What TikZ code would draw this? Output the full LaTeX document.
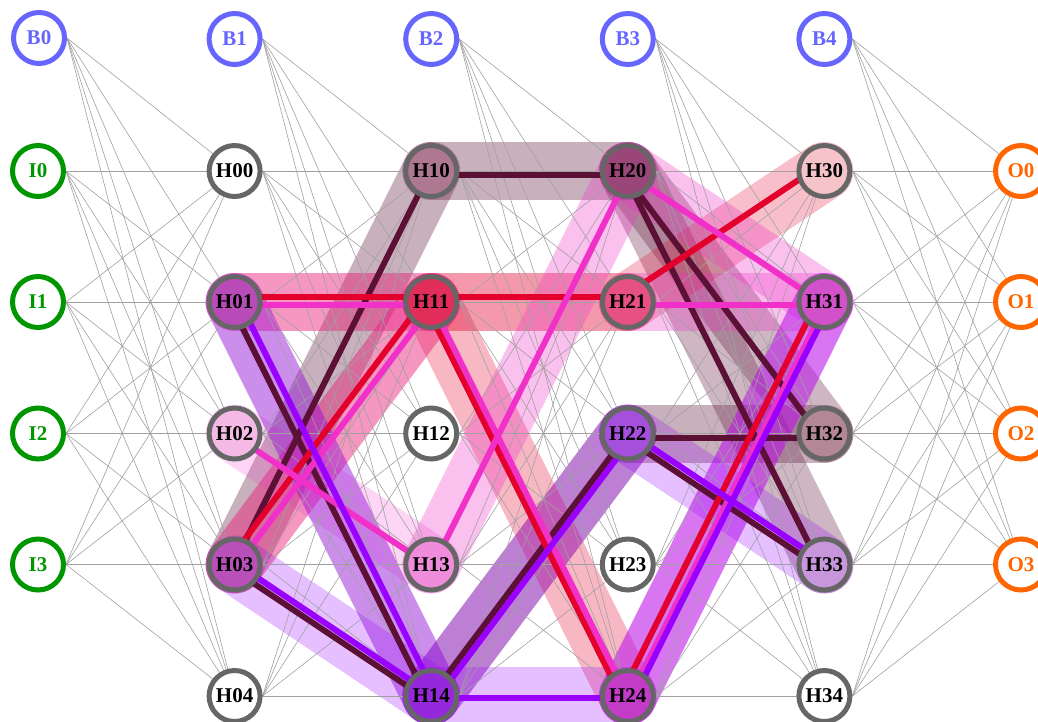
\documentclass[tikz,border=0pt]{standalone}
\usepackage{fontspec}
\setmainfont{Liberation Serif}
\pgfdeclarelayer{bg}
\pgfsetlayers{bg,main}

\definecolor{biasc}{RGB}{102,102,255}
\definecolor{inc}{RGB}{0,150,0}
\definecolor{outc}{RGB}{255,102,0}
\definecolor{hidc}{RGB}{102,102,102}
\definecolor{wirec}{RGB}{160,160,160}
\definecolor{maroonc}{RGB}{92,16,54}
\definecolor{redc}{RGB}{228,0,44}
\definecolor{magc}{RGB}{240,48,200}
\definecolor{purc}{RGB}{153,0,255}

\definecolor{f01}{RGB}{185,75,185}
\definecolor{f02}{RGB}{245,185,230}
\definecolor{f03}{RGB}{185,80,185}
\definecolor{f10}{RGB}{175,120,145}
\definecolor{f11}{RGB}{225,45,90}
\definecolor{f13}{RGB}{240,140,220}
\definecolor{f14}{RGB}{150,40,220}
\definecolor{f20}{RGB}{155,70,120}
\definecolor{f21}{RGB}{230,80,130}
\definecolor{f22}{RGB}{165,80,220}
\definecolor{f24}{RGB}{195,60,200}
\definecolor{f30}{RGB}{245,195,200}
\definecolor{f31}{RGB}{210,80,200}
\definecolor{f32}{RGB}{180,135,150}
\definecolor{f33}{RGB}{200,150,220}

\tikzset{
  neuron/.style={circle, minimum size=51pt, inner sep=0pt, line width=5pt,
    font=\fontsize{21}{24}\selectfont\bfseries},
  biasn/.style={neuron, draw=biasc, text=biasc, fill=white},
  inn/.style={neuron, draw=inc, text=inc, fill=white},
  outn/.style={neuron, draw=outc, text=outc, fill=white},
  hidn/.style={neuron, draw=hidc, text=black, fill=white},
  wire/.style={draw=wirec, line width=0.6pt},
  band/.style={line width=58pt, line cap=round},
  strand/.style={line width=6pt},
}

\begin{document}
\begin{tikzpicture}[x=1pt,y=-1pt]
\useasboundingbox (0,0) rectangle (1038,721);
\clip (0,0) rectangle (1038,721);

% bias row
\node[biasn] (B0) at (39,38) {B0};
\node[biasn] (B1) at (234.6,39) {B1};
\node[biasn] (B2) at (431.2,39) {B2};
\node[biasn] (B3) at (627.8,39) {B3};
\node[biasn] (B4) at (824.4,39) {B4};

% inputs
\node[inn] (I0) at (38,171) {I0};
\node[inn] (I1) at (38,302) {I1};
\node[inn] (I2) at (38,433.5) {I2};
\node[inn] (I3) at (38,564.5) {I3};

% hidden layer 0
\node[hidn] (H00) at (234.6,171) {H00};
\node[hidn, fill=f01] (H01) at (234.6,302) {H01};
\node[hidn, fill=f02] (H02) at (234.6,433.5) {H02};
\node[hidn, fill=f03] (H03) at (234.6,564.5) {H03};
\node[hidn] (H04) at (234.6,696) {H04};

% hidden layer 1
\node[hidn, fill=f10] (H10) at (431.2,171) {H10};
\node[hidn, fill=f11] (H11) at (431.2,302) {H11};
\node[hidn] (H12) at (431.2,433.5) {H12};
\node[hidn, fill=f13] (H13) at (431.2,564.5) {H13};
\node[hidn, fill=f14] (H14) at (431.2,696) {H14};

% hidden layer 2
\node[hidn, fill=f20] (H20) at (627.8,171) {H20};
\node[hidn, fill=f21] (H21) at (627.8,302) {H21};
\node[hidn, fill=f22] (H22) at (627.8,433.5) {H22};
\node[hidn] (H23) at (627.8,564.5) {H23};
\node[hidn, fill=f24] (H24) at (627.8,696) {H24};

% hidden layer 3
\node[hidn, fill=f30] (H30) at (824.4,171) {H30};
\node[hidn, fill=f31] (H31) at (824.4,302) {H31};
\node[hidn, fill=f32] (H32) at (824.4,433.5) {H32};
\node[hidn, fill=f33] (H33) at (824.4,564.5) {H33};
\node[hidn] (H34) at (824.4,696) {H34};

% outputs
\node[outn] (O0) at (1021,171) {O0};
\node[outn] (O1) at (1021,302) {O1};
\node[outn] (O2) at (1021,433.5) {O2};
\node[outn] (O3) at (1021,564.5) {O3};

\begin{pgfonlayer}{bg}
  % translucent bands, opacity per connection
  \foreach \a/\b/\o in {H03/H10/0.33,H10/H20/0.33,H14/H22/0.3,H20/H32/0.3,
                        H20/H33/0.3,H22/H32/0.33,H01/H14/0.15}
    \draw[band, maroonc, draw opacity=\o] (\a.center) -- (\b.center);
  \foreach \a/\b/\o in {H01/H11/0.3,H11/H21/0.4,H03/H11/0.3,H11/H24/0.28,H21/H30/0.25}
    \draw[band, redc, draw opacity=\o] (\a.center) -- (\b.center);
  \foreach \a/\b/\o in {H01/H11/0.2,H03/H11/0.2,H02/H13/0.2,H13/H20/0.3,
                        H20/H31/0.3,H21/H31/0.3,H24/H31/0.35}
    \draw[band, magc, draw opacity=\o] (\a.center) -- (\b.center);
  \foreach \a/\b/\o in {H01/H14/0.35,H03/H14/0.25,H14/H22/0.3,H14/H24/0.25,
                        H22/H33/0.25,H24/H31/0.35}
    \draw[band, purc, draw opacity=\o] (\a.center) -- (\b.center);

  % full connectivity between consecutive layers
  \foreach \t in {0,...,4} {
    \draw[wire] (B0.east) -- (H0\t);
    \foreach \s in {0,...,3} \draw[wire] (I\s.east) -- (H0\t);
  }
  \foreach \l/\n in {0/1,1/2,2/3} {
    \foreach \t in {0,...,4} {
      \draw[wire] (B\n.east) -- (H\n\t);
      \foreach \s in {0,...,4} \draw[wire] (H\l\s.east) -- (H\n\t);
    }
  }
  \foreach \t in {0,...,3} {
    \draw[wire] (B4.east) -- (O\t);
    \foreach \s in {0,...,4} \draw[wire] (H3\s.east) -- (O\t);
  }

  % solid strands
  \foreach \a/\b in {H03/H10,H10/H20,H01/H14,H03/H14,H14/H22,H20/H32,H20/H33,H22/H32,H22/H33}
    \draw[strand, maroonc] ([shift={(-3,4)}]\a.center) -- ([shift={(-3,4)}]\b.center);
  \foreach \a/\b in {H01/H11,H03/H11,H11/H21,H21/H30,H24/H31}
    \draw[strand, redc] ([shift={(-5,-5)}]\a.center) -- ([shift={(-5,-5)}]\b.center);
  \draw[strand, redc] ([shift={(-8,-2)}]H11.center) -- ([shift={(-8,-2)}]H24.center);
  \foreach \a/\b in {H01/H11,H03/H11,H02/H13,H11/H24,H13/H20,H20/H31,H21/H31,H24/H31}
    \draw[strand, magc] ([shift={(1,3)}]\a.center) -- ([shift={(1,3)}]\b.center);
  \foreach \a/\b in {H01/H14,H03/H14,H14/H22,H14/H24,H22/H33,H24/H31}
    \draw[strand, purc] ([shift={(6,2)}]\a.center) -- ([shift={(6,2)}]\b.center);
\end{pgfonlayer}
\end{tikzpicture}
\end{document}
